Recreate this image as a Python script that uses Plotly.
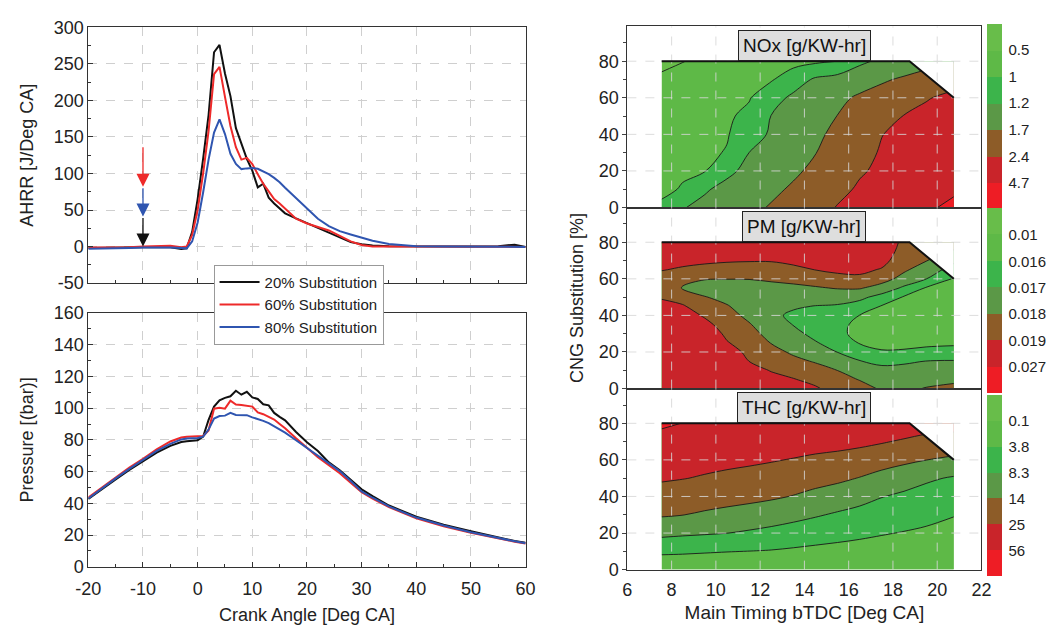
import numpy as np
import plotly.graph_objects as go

W, H = 1058, 629

# ---------------- left panels: crank-angle resolved data ----------------
crank_angle = [-20, -17.5, -15, -12.5, -10, -7.5, -5, -3, -2, -1, 0, 1, 2, 3, 4, 5, 6, 7, 8, 9,
               10, 11, 12, 13, 14, 15, 16, 18, 20, 22, 24, 26, 28, 30, 32, 35, 40, 45, 50, 55, 58, 60]

ahrr_20 = [-2, -2, -2, -1.5, -1, -0.5, -1, -3.5, -2.5, 20, 65, 120, 180, 266, 276, 237, 206, 162, 141, 120,
           104, 81, 86, 67, 59, 52, 45.5, 38.5, 32, 26, 20, 13.5, 6, 3, 1.5, 0.5, 0, 0.5, 0, 0.5, 2.5, -0.5]
ahrr_60 = [-1.5, -1.5, -1, -1, 0, 0.5, 1, -1, 0, 16, 50, 100, 158, 236, 246, 205, 165, 136, 119, 121.5,
           113, 99, 86, 75.5, 65, 59, 52, 38, 31.5, 27, 22, 14.5, 7, 2, 0, 0, 0, 0, 0, 0, -0.5, -0.5]
ahrr_80 = [-3, -3, -2.5, -2, -1.5, -1, -1.5, -2, -2.5, 7, 33, 74, 119, 156, 174, 154, 127, 113, 106, 107,
           107.5, 106.5, 103, 99, 94, 88, 80.5, 66, 52, 38, 28, 21, 16.5, 12.5, 8, 3.5, 0.5, 0, 0, 0, 0.5, -0.5]

pres_20 = [42.7, 49, 55, 61, 66.5, 72, 76.2, 78.7, 79.2, 79.4, 79.8, 82, 92.6, 101, 105, 106.5, 107.5, 111, 108.5, 110.3,
           106.8, 105.8, 102.5, 101.8, 97, 94.5, 92.3, 85, 78.5, 73, 65.8, 60.8, 54.5, 48.8, 44.5, 38.6, 31.5, 26.5, 22.4, 18.5, 16.2, 15.2]
pres_60 = [43.7, 50, 56.5, 62.5, 68, 74, 79, 81.5, 82, 82.3, 82.3, 82.5, 86, 99.7, 100.3, 99.7, 104.8, 102.3, 102, 101.5,
           101, 97.3, 96.2, 94.5, 92.8, 90, 87.3, 81, 74.8, 69, 64, 59, 53, 47, 43, 37.6, 30.5, 25.5, 21.4, 17.8, 15.8, 14.7]
pres_80 = [43, 49.5, 55.7, 61.7, 67.2, 73, 77.5, 80.3, 80.8, 81, 81.2, 82, 86.5, 93.5, 95, 95.3, 97, 95.7, 95.5, 95.6,
           94.2, 93.3, 92, 90.6, 88.6, 86.8, 84.6, 79.8, 74.8, 70.2, 65, 60.3, 54, 47.5, 43.5, 38, 31, 26, 21.8, 18, 16, 14.8]

series_names = ["20% Substitution", "60% Substitution", "80% Substitution"]
series_colors = ["#111111", "#ee2a2a", "#2f55b0"]

ca_ticks = [-20, -10, 0, 10, 20, 30, 40, 50, 60]
ahrr_ticks = [-50, 0, 50, 100, 150, 200, 250, 300]

# injection markers (arrows) on the AHRR panel
arrow_ca = -10
arrow_tail = [41, 82, 138]
arrow_tip = [0, 41, 82]
arrow_colors = ["#111111", "#2f55b0", "#ee2a2a"]

# ---------------- right panels: emission maps ----------------
timing = [7.55, 8.5, 9.5, 10.5, 11.5, 12.5, 13.5, 14.5, 15.5, 16.5, 17.5, 18.5, 19.5, 20.75]
cng_10 = [0, 10, 20, 30, 40, 50, 60, 70, 80]
cng_5 = [0, 5, 10, 15, 20, 25, 30, 35, 40, 45, 50, 55, 60, 65, 70, 75, 80]

# NOx [g/kW-hr], one row per CNG substitution (cng_10), one value per timing
nox_rows = [
    [1.07, 1.19, 1.32, 1.46, 1.59, 1.75, 1.98, 2.21, 2.49, 2.95, 3.44, 3.9, 4.38, 5.16],
    [0.79, 1.03, 1.18, 1.33, 1.47, 1.61, 1.78, 2.02, 2.27, 2.61, 3.02, 3.44, 3.87, 4.38],
    [0.77, 0.87, 0.98, 1.16, 1.32, 1.48, 1.63, 1.83, 2.09, 2.35, 2.7, 3.07, 3.41, 3.87],
    [0.74, 0.82, 0.92, 1.01, 1.2, 1.36, 1.53, 1.69, 1.95, 2.23, 2.56, 2.95, 3.34, 3.83],
    [0.72, 0.8, 0.88, 0.97, 1.1, 1.27, 1.44, 1.62, 1.84, 2.11, 2.39, 2.77, 3.16, 3.64],
    [0.71, 0.78, 0.86, 0.94, 1.04, 1.21, 1.38, 1.54, 1.71, 1.95, 2.18, 2.45, 2.86, 3.37],
    [0.63, 0.71, 0.8, 0.88, 0.97, 1.12, 1.3, 1.45, 1.61, 1.78, 1.97, 2.17, 2.36, 2.86],
    [0.55, 0.63, 0.71, 0.79, 0.88, 0.96, 1.1, 1.27, 1.39, 1.52, 1.64, 1.79, 1.97, 2.18],
    [0.43, 0.49, 0.57, 0.64, 0.71, 0.78, 0.85, 0.92, 0.99, 1.16, 1.3, 1.41, 1.53, 1.67],
]

# PM [g/kW-hr], one column per timing, values along cng_5
pm_cols = [
    [0.0262, 0.0262, 0.0262, 0.0262, 0.0262, 0.0262, 0.0262, 0.0262, 0.02476, 0.02156, 0.0189, 0.0184, 0.01853, 0.01948, 0.02268, 0.02588, 0.0262],
    [0.0262, 0.0262, 0.0262, 0.0262, 0.0262, 0.0262, 0.0262, 0.0262, 0.023, 0.0198, 0.01858, 0.01795, 0.01819, 0.01885, 0.02148, 0.02468, 0.0262],
    [0.0262, 0.0262, 0.0262, 0.0262, 0.0262, 0.0262, 0.02444, 0.02124, 0.01888, 0.01846, 0.01805, 0.0175, 0.01806, 0.01868, 0.02052, 0.02372, 0.0262],
    [0.0262, 0.0262, 0.0262, 0.02596, 0.02276, 0.01956, 0.0188, 0.01856, 0.01832, 0.01808, 0.01768, 0.01758, 0.01802, 0.01858, 0.0198, 0.023, 0.0262],
    [0.0262, 0.02532, 0.02212, 0.01899, 0.01876, 0.01853, 0.0183, 0.01807, 0.01779, 0.01748, 0.01742, 0.01772, 0.01802, 0.01855, 0.01948, 0.02268, 0.02588],
    [0.02476, 0.02156, 0.01894, 0.01861, 0.01829, 0.01797, 0.01771, 0.01746, 0.0172, 0.01726, 0.01752, 0.01779, 0.0181, 0.01859, 0.01948, 0.02268, 0.02588],
    [0.0226, 0.0194, 0.01864, 0.01822, 0.01786, 0.01756, 0.01725, 0.01697, 0.01684, 0.01711, 0.01746, 0.01781, 0.01824, 0.01877, 0.02076, 0.02396, 0.0262],
    [0.01996, 0.01872, 0.01833, 0.01792, 0.0175, 0.01707, 0.01675, 0.01646, 0.01666, 0.01697, 0.01744, 0.01791, 0.01846, 0.01916, 0.02236, 0.02556, 0.0262],
    [0.0186, 0.0183, 0.01799, 0.01748, 0.01698, 0.01661, 0.01625, 0.01628, 0.01659, 0.0169, 0.01742, 0.01806, 0.01869, 0.0206, 0.0238, 0.0262, 0.0262],
    [0.0183, 0.01796, 0.0175, 0.01703, 0.01644, 0.01564, 0.0142, 0.01444, 0.01588, 0.01657, 0.01725, 0.01808, 0.01876, 0.02108, 0.02428, 0.0262, 0.0262],
    [0.0179, 0.01757, 0.01723, 0.01679, 0.01607, 0.01468, 0.01324, 0.01294, 0.01426, 0.01564, 0.01663, 0.01763, 0.01836, 0.01891, 0.02172, 0.02492, 0.0262],
    [0.0178, 0.01752, 0.01724, 0.01688, 0.01609, 0.01474, 0.01324, 0.0118, 0.01306, 0.01426, 0.01552, 0.01682, 0.01768, 0.01814, 0.01838, 0.0185, 0.0187],
    [0.01805, 0.01769, 0.01735, 0.01701, 0.0162, 0.01504, 0.01378, 0.01252, 0.01222, 0.01336, 0.01444, 0.01552, 0.01702, 0.01755, 0.01804, 0.01832, 0.0186],
    [0.0182, 0.01784, 0.01745, 0.01706, 0.01629, 0.01522, 0.01408, 0.01294, 0.0118, 0.01288, 0.0139, 0.01498, 0.0157, 0.0166, 0.0172, 0.0179, 0.0185],
]

# THC [g/kW-hr], one column per timing, values along cng_10
thc_cols = [
    [0.62, 4.7, 9.7, 15.1, 20.9, 28.1, 38.3, 48.9, 59.4],
    [0.66, 4.5, 9.2, 14.2, 19.8, 25.9, 35.9, 46.1, 55.7],
    [0.66, 4.2, 8.8, 13.3, 18.7, 24.2, 33.4, 43.0, 52.9],
    [0.66, 3.94, 8.36, 12.6, 17.6, 23.0, 31.5, 42.1, 52.9],
    [0.66, 3.76, 7.76, 11.9, 16.6, 21.8, 29.7, 41.4, 52.9],
    [0.66, 3.58, 7.13, 11.0, 15.4, 20.6, 26.9, 39.9, 52.9],
    [0.66, 3.28, 6.41, 9.95, 13.8, 19.1, 24.5, 38.3, 52.9],
    [0.66, 2.99, 5.74, 8.81, 12.6, 17.5, 23.1, 36.2, 52.9],
    [0.66, 2.76, 5.15, 7.81, 11.4, 16.0, 22.0, 34.3, 52.9],
    [0.66, 2.54, 4.61, 7.0, 10.1, 13.8, 20.4, 31.5, 52.9],
    [0.66, 2.32, 4.07, 6.23, 8.47, 12.3, 18.1, 27.2, 52.9],
    [0.66, 2.14, 3.65, 5.56, 7.49, 10.9, 16.1, 23.8, 43.6],
    [0.84, 2.06, 3.28, 4.88, 6.73, 9.1, 14.1, 21.9, 38.0],
    [1.03, 1.99, 2.91, 3.94, 5.92, 7.9, 12.9, 21.4, 34.3],
]

nox_levels = [0.5, 1, 1.2, 1.7, 2.4, 4.7]
pm_levels = [0.01, 0.016, 0.017, 0.018, 0.019, 0.027]
thc_levels = [0.1, 3.8, 8.3, 14, 25, 56]
nox_labels = ["0.5", "1", "1.2", "1.7", "2.4", "4.7"]
pm_labels = ["0.01", "0.016", "0.017", "0.018", "0.019", "0.027"]
thc_labels = ["0.1", "3.8", "8.3", "14", "25", "56"]
nox_ends = [0.0, 7.0]
pm_ends = [0.004, 0.035]
thc_ends = [0.0, 90.0]

# test-matrix boundary (top edge and cut corner)
edge_x = [7.55, 18.75, 20.75]
edge_y = [80, 80, 60]

band_colors = ["#68bd4a", "#5eb947", "#3cb44b", "#5b9847", "#8d5c28", "#c9242a", "#ee1d25"]

# ---------------- helpers ----------------
def dom_x(a, b):
    return [a / W, b / W]

def dom_y(top, bottom):
    return [1 - bottom / H, 1 - top / H]

def band_index(z, levels, ends):
    ref = [ends[0]] + list(levels) + [ends[1]]
    return np.interp(np.asarray(z, dtype=float), ref, np.arange(len(ref)))

fig = go.Figure()

for name, col, ys in zip(series_names, series_colors, [ahrr_20, ahrr_60, ahrr_80]):
    fig.add_trace(go.Scatter(x=crank_angle, y=ys, mode="lines", name=name,
                             line=dict(color=col, width=2), xaxis="x", yaxis="y"))
for name, col, ys in zip(series_names, series_colors, [pres_20, pres_60, pres_80]):
    fig.add_trace(go.Scatter(x=crank_angle, y=ys, mode="lines", name=name, showlegend=False,
                             line=dict(color=col, width=2), xaxis="x2", yaxis="y2"))

contour_scale = [[k / 6, c] for k, c in enumerate(band_colors)]
bar_scale = []
for j in range(7):
    c = band_colors[6 - j]
    bar_scale += [[j / 7, c], [(j + 1) / 7, c]]

maps = [
    (3, cng_10, np.array(nox_rows), nox_levels, nox_ends, nox_labels, (17, 203)),
    (4, cng_5, np.array(pm_cols).T, pm_levels, pm_ends, pm_labels, (208, 393)),
    (5, cng_10, np.array(thc_cols).T, thc_levels, thc_ends, thc_labels, (401, 582)),
]

for k, yy, z, lev, ends, labels, (cb_top, cb_bot) in maps:
    xa, ya = f"x{k}", f"y{k}"
    fig.add_trace(go.Contour(
        x=timing, y=yy, z=band_index(z, lev, ends), xaxis=xa, yaxis=ya,
        autocontour=False, contours=dict(start=1, end=6, size=1, coloring="fill", showlines=True),
        line=dict(color="#1a1a1a", width=0.9, smoothing=1.0),
        colorscale=contour_scale, showscale=False, hoverinfo="skip"))
    fig.add_trace(go.Scatter(x=[edge_x[1], edge_x[2], edge_x[2], edge_x[1]],
                             y=[edge_y[1], edge_y[2], edge_y[1], edge_y[1]],
                             fill="toself", fillcolor="white", mode="lines",
                             line=dict(width=0, color="white"), showlegend=False,
                             hoverinfo="skip", xaxis=xa, yaxis=ya))
    fig.add_trace(go.Heatmap(
        z=[[-1]], x=[100], y=[500], xaxis=xa, yaxis=ya, zmin=-7, zmax=0,
        colorscale=bar_scale, hoverinfo="skip",
        colorbar=dict(x=996 / W, xanchor="left", y=1 - (cb_top + cb_bot) / 2 / H, yanchor="middle",
                      len=cb_bot - cb_top, lenmode="pixels", thickness=15, thicknessmode="pixels",
                      outlinewidth=0, xpad=0, ypad=0, ticks="outside", ticklen=4,
                      tickcolor="rgba(0,0,0,0)",
                      tickvals=[-(i + 1) for i in range(6)], ticktext=labels,
                      tickfont=dict(size=15, color="#222"))))

# ---------------- axes ----------------
left_common = dict(showline=True, linecolor="#333", linewidth=1, mirror=True, zeroline=False,
                   showgrid=True, gridcolor="#cfcfcf", griddash="dash", gridwidth=1,
                   ticks="inside", ticklen=5, tickcolor="#333", tickfont=dict(size=18))
right_common = dict(showline=True, linecolor="#333", linewidth=1, mirror=True, zeroline=False,
                    showgrid=False, tickfont=dict(size=18))

lx = dom_x(77, 524)
rx = dom_x(628, 990)
fig.update_layout(
    xaxis=dict(domain=lx, range=[-20, 60], tickvals=ca_ticks, showticklabels=False, anchor="y",
               minor=dict(ticks="inside", ticklen=3, dtick=5, tickcolor="#333"), **left_common),
    yaxis=dict(domain=dom_y(18, 282), range=[-50, 300], tickvals=ahrr_ticks,
               ticktext=[str(v) for v in ahrr_ticks], anchor="x",
               minor=dict(ticks="inside", ticklen=3, dtick=25, tickcolor="#333"),
               title=dict(text="AHRR [J/Deg CA]", font=dict(size=18), standoff=15), **left_common),
    xaxis2=dict(domain=lx, range=[-20, 60], tickvals=ca_ticks, ticktext=[str(v) for v in ca_ticks],
                anchor="y2", ticklabelstandoff=6,
                minor=dict(ticks="inside", ticklen=3, dtick=5, tickcolor="#333"),
                title=dict(text="Crank Angle [Deg CA]", font=dict(size=18), standoff=10), **left_common),
    yaxis2=dict(domain=dom_y(313, 575), range=[0, 160], dtick=20, anchor="x2",
                minor=dict(ticks="inside", ticklen=3, dtick=10, tickcolor="#333"),
                title=dict(text="Pressure [(bar)]", font=dict(size=18), standoff=15), **left_common),
    xaxis3=dict(domain=rx, range=[6, 22], dtick=2, showticklabels=False, anchor="y3", **right_common),
    yaxis3=dict(domain=dom_y(17, 204), range=[0, 99], dtick=20, tick0=0, anchor="x3",
                ticks="outside", ticklen=4, minor=dict(ticks="outside", ticklen=3, dtick=10), **right_common),
    xaxis4=dict(domain=rx, range=[6, 22], dtick=2, showticklabels=False, anchor="y4", **right_common),
    yaxis4=dict(domain=dom_y(204, 391), range=[0, 99], dtick=20, tick0=0, anchor="x4",
                ticks="outside", ticklen=4, minor=dict(ticks="outside", ticklen=3, dtick=10),
                title=dict(text="CNG Substitution [%]", font=dict(size=18), standoff=10), **right_common),
    xaxis5=dict(domain=rx, range=[6, 22], dtick=2, tick0=6, anchor="y5", ticklabelstandoff=4,
                title=dict(text="Main Timing bTDC [Deg CA]", font=dict(size=19), standoff=6), **right_common),
    yaxis5=dict(domain=dom_y(391, 578), range=[0, 99], dtick=20, tick0=0, anchor="x5",
                ticks="outside", ticklen=4, minor=dict(ticks="outside", ticklen=3, dtick=10), **right_common),
)

# dashed grid drawn over the filled maps, then the solid matrix boundary on top
shapes = []
grid_line = dict(color="rgba(215,215,215,0.85)", width=1, dash="dash")
for k in (3, 4, 5):
    for gx in range(8, 21, 2):
        shapes.append(dict(type="line", xref=f"x{k}", yref=f"y{k} domain", x0=gx, x1=gx, y0=0, y1=1,
                           layer="above", line=grid_line))
    for gy in (20, 40, 60, 80):
        shapes.append(dict(type="line", xref=f"x{k} domain", yref=f"y{k}", x0=0, x1=1, y0=gy, y1=gy,
                           layer="above", line=grid_line))
edge_path = "M " + " L ".join(f"{a},{b}" for a, b in zip(edge_x, edge_y))
for k in (3, 4, 5):
    shapes.append(dict(type="path", xref=f"x{k}", yref=f"y{k}", path=edge_path, layer="above",
                       line=dict(color="#111", width=2)))

annotations = []
for k, text in [(3, "NOx [g/KW-hr]"), (4, "PM [g/KW-hr]"), (5, "THC [g/KW-hr]")]:
    annotations.append(dict(x=0.5, xref=f"x{k} domain", y=80, yref=f"y{k}", xanchor="center", yanchor="bottom",
                            text=text, showarrow=False, bgcolor="#dedede", bordercolor="#222",
                            borderwidth=1, borderpad=4, font=dict(size=19, color="#111")))
for tail, tip, col in zip(arrow_tail, arrow_tip, arrow_colors):
    annotations.append(dict(x=arrow_ca, y=tip, ax=arrow_ca, ay=tail, xref="x", yref="y", axref="x", ayref="y",
                            text="", showarrow=True, arrowhead=2, arrowsize=2.0, arrowwidth=1.3, arrowcolor=col))

fig.update_layout(
    width=W, height=H, margin=dict(l=0, r=0, t=0, b=0),
    paper_bgcolor="white", plot_bgcolor="white",
    font=dict(family="Liberation Sans, Arial, sans-serif", size=17, color="#222"),
    shapes=shapes, annotations=annotations,
    legend=dict(x=205 / W, y=1 - 263 / H, xanchor="left", yanchor="top", bgcolor="white",
                bordercolor="#999", borderwidth=1, font=dict(size=15, color="#222"),
                itemwidth=40, tracegroupgap=0),
)

fig.write_html("out.html")
